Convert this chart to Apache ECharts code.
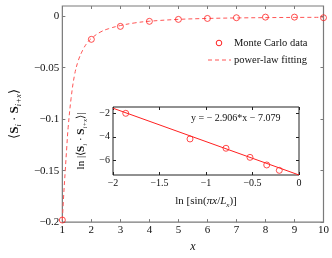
<!DOCTYPE html>
<html><head><meta charset="utf-8">
<script src="https://cdn.jsdelivr.net/npm/echarts@6/dist/echarts.min.js"></script>
<style>html,body{margin:0;padding:0;background:#fff}#c{width:332px;height:258px}</style>
</head><body><div id="c"></div>
<script>
// Monte Carlo data (main plot)
const mcX = [1, 2, 3, 4, 5, 6, 7, 8, 9, 10];
const mcY = [-0.198, -0.0224, -0.0098, -0.0049, -0.0030, -0.0021, -0.0014, -0.0008, -0.0008, -0.0014];
// power-law fitting curve
const fitX = [1, 1.05, 1.1, 1.15, 1.2, 1.3, 1.42, 1.55, 1.7, 1.85, 2, 2.3, 2.6, 3, 3.5, 4, 5, 6, 7, 8, 9, 10];
const fitY = [-0.198, -0.172, -0.150, -0.128, -0.108, -0.080, -0.057, -0.043, -0.033, -0.026, -0.0215, -0.0155, -0.0120, -0.0090, -0.0064, -0.0048, -0.0030, -0.0021, -0.0016, -0.0013, -0.0011, -0.0010];
// inset data
const insetX = [-1.863, -1.172, -0.785, -0.527, -0.347, -0.212];
const insetY = [-2.03, -4.18, -4.96, -5.72, -6.36, -6.81];
const insetLineX = [-2, 0];
const insetLineY = [-1.6, -7.2];
// tick values
const mainXTicks = [1, 2, 3, 4, 5, 6, 7, 8, 9, 10];
const mainYTicks = [0, -0.05, -0.1, -0.15, -0.2];
const insetXTicks = [-2, -1.5, -1, -0.5, 0];
const insetYTicks = [-2, -4, -6];
const legendNames = ['Monte Carlo data', 'power-law fitting'];

const FONT = '"Liberation Serif", "Times New Roman", serif';
const RED = '#ff2020';
const DASHRED = '#ff5555';
const GRAY = '#7a7a7a';
const fmt = v => (v === 0 ? '0' : (v < 0 ? '\u2212' : '') + String(Math.abs(+v.toFixed(4))));
const zip = (a, b) => a.map((x, i) => [x, b[i]]);

function axisBase(gridIndex, pos, min, max, ticks, color, showLabel, fs) {
  return {
    type: 'value', gridIndex, position: pos, min, max,
    axisLine: { show: false, onZero: false },
    splitLine: { show: false },
    axisTick: { show: true, inside: true, length: 3, customValues: ticks, lineStyle: { color, width: 1 } },
    axisLabel: { show: showLabel, customValues: ticks, formatter: fmt, color: '#111', fontFamily: FONT, fontSize: fs, margin: 3 }
  };
}

function makeRich(fs, sfs) {
  return {
    a: { fontFamily: FONT, fontSize: fs, color: '#111', lineHeight: fs + 4 },
    b: { fontFamily: FONT, fontSize: fs, fontWeight: 'bold', color: '#111', lineHeight: fs + 4 },
    s: { fontFamily: FONT, fontSize: sfs, fontStyle: 'italic', color: '#111', lineHeight: fs + 4, verticalAlign: 'bottom' },
    it: { fontFamily: FONT, fontSize: fs, fontStyle: 'italic', color: '#111', lineHeight: fs + 4 }
  };
}

const chart = echarts.init(document.getElementById('c'), null, { renderer: 'canvas' });
const option = {
  animation: false,
  backgroundColor: '#fff',
  grid: [
    { left: 44, top: 6, width: 281, height: 224, show: true, borderColor: GRAY, borderWidth: 1.2, backgroundColor: 'transparent' },
    { left: 113, top: 107, width: 186, height: 68, show: true, borderColor: '#222', borderWidth: 1, backgroundColor: '#fff' }
  ],
  xAxis: [
    Object.assign(axisBase(0, 'bottom', 1, 10, mainXTicks, GRAY, true, 11), {
      name: 'x', nameLocation: 'middle', nameGap: 13,
      nameTextStyle: { fontFamily: FONT, fontStyle: 'italic', fontSize: 12, color: '#111' }
    }),
    axisBase(0, 'top', 1, 10, mainXTicks, GRAY, false, 11),
    Object.assign(axisBase(1, 'bottom', -2, 0, insetXTicks, '#222', true, 10), {
      name: '{a|ln [sin(}{it|πx}{a|/}{it|L}{s|x}{a|)]}', nameLocation: 'middle', nameGap: 19,
      nameTextStyle: { rich: makeRich(11, 7) }
    }),
    axisBase(1, 'top', -2, 0, insetXTicks, '#222', false, 10)
  ],
  yAxis: [
    Object.assign(axisBase(0, 'left', -0.2, 0.01, mainYTicks, GRAY, true, 11), {
      name: '{a|⟨}{b|S}{s|i}{a| · }{b|S}{s|i+x}{a|⟩}', nameLocation: 'middle', nameGap: 32,
      nameTextStyle: { rich: makeRich(13, 8.5) }
    }),
    axisBase(0, 'right', -0.2, 0.01, mainYTicks, GRAY, false, 11),
    Object.assign(axisBase(1, 'left', -7.2, -1.5, insetYTicks, '#222', true, 10), {
      name: '{a|ln |⟨}{b|S}{s|i}{a| · }{b|S}{s|i+x}{a|⟩|}', nameLocation: 'middle', nameGap: 15,
      nameTextStyle: { rich: makeRich(11, 7) }
    }),
    axisBase(1, 'right', -7.2, -1.5, insetYTicks, '#222', false, 10)
  ],
  series: [
    {
      name: legendNames[1], type: 'line', xAxisIndex: 0, yAxisIndex: 0,
      data: zip(fitX, fitY), smooth: 0.4, showSymbol: false, symbol: 'none',
      lineStyle: { color: DASHRED, width: 1, type: [4, 3] }, itemStyle: { color: DASHRED }, z: 2
    },
    {
      name: legendNames[0], type: 'scatter', xAxisIndex: 0, yAxisIndex: 0,
      data: zip(mcX, mcY), symbol: 'circle', symbolSize: 6,
      itemStyle: { color: 'transparent', borderColor: RED, borderWidth: 1 }, z: 3
    },
    {
      name: 'fit', type: 'line', xAxisIndex: 2, yAxisIndex: 2,
      data: zip(insetLineX, insetLineY), showSymbol: false, symbol: 'none',
      lineStyle: { color: RED, width: 1 }, z: 4
    },
    {
      name: 'inset data', type: 'scatter', xAxisIndex: 2, yAxisIndex: 2,
      data: zip(insetX, insetY), symbol: 'circle', symbolSize: 6,
      itemStyle: { color: 'transparent', borderColor: RED, borderWidth: 1 }, z: 5
    }
  ],
  graphic: [
    { type: 'circle', z: 100, shape: { cx: 219, cy: 43, r: 2.8 }, style: { fill: 'none', stroke: RED, lineWidth: 1 } },
    { type: 'line', z: 100, shape: { x1: 208, y1: 60, x2: 231, y2: 60 }, style: { stroke: DASHRED, lineWidth: 1, lineDash: [4, 3] } },
    { type: 'text', z: 100, style: { x: 234, y: 43, text: legendNames[0], verticalAlign: 'middle', fontFamily: FONT, fontSize: 10.5, fill: '#111' } },
    { type: 'text', z: 100, style: { x: 234, y: 60, text: legendNames[1], verticalAlign: 'middle', fontFamily: FONT, fontSize: 10.5, fill: '#111' } },
    { type: 'text', z: 100, style: { x: 191, y: 118, text: 'y = \u2212 2.906*x \u2212 7.079', verticalAlign: 'middle', fontFamily: FONT, fontSize: 10, fill: '#111' } }
  ]
};
chart.setOption(option);
</script></body></html>
